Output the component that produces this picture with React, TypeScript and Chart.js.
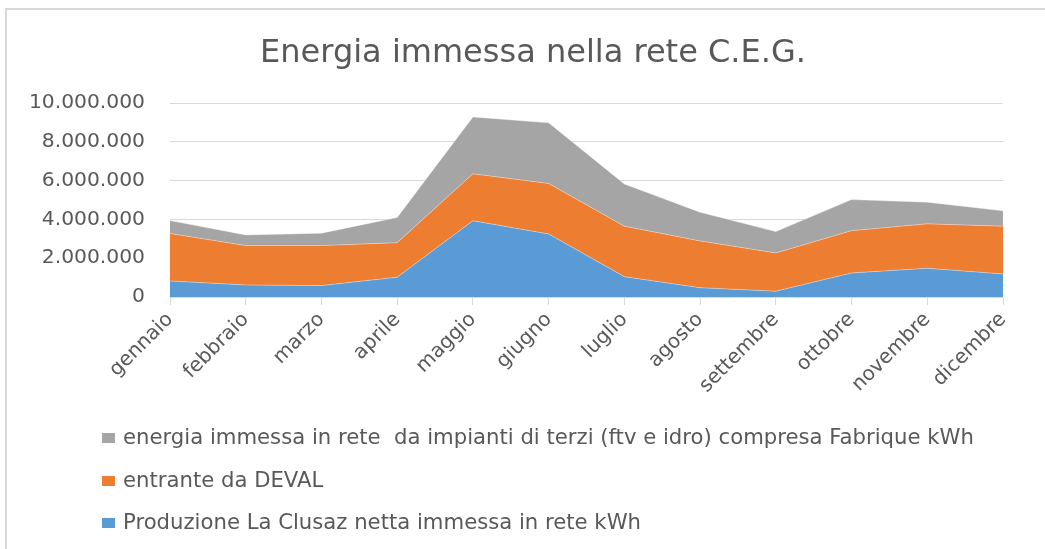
import React, { useEffect, useRef } from "react";
import { Chart, registerables } from "chart.js";

Chart.register(...registerables);

const categories = [
  "gennaio", "febbraio", "marzo", "aprile", "maggio", "giugno",
  "luglio", "agosto", "settembre", "ottobre", "novembre", "dicembre",
];

const produzioneClusaz = [830000, 620000, 590000, 1020000, 3930000, 3250000, 1050000, 480000, 300000, 1240000, 1480000, 1190000];
const entranteDeval = [2440000, 2030000, 2060000, 1780000, 2420000, 2600000, 2600000, 2410000, 1970000, 2180000, 2290000, 2460000];
const impiantiTerzi = [670000, 550000, 640000, 1300000, 2930000, 3130000, 2170000, 1480000, 1100000, 1600000, 1120000, 790000];

const seriesLabels = [
  "Produzione La Clusaz netta immessa in rete kWh",
  "entrante da DEVAL",
  "energia immessa in rete  da impianti di terzi (ftv e idro) compresa Fabrique kWh",
];

const titleText = "Energia immessa nella rete C.E.G.";
const yMax = 10000000;
const yStep = 2000000;

const FONT = "'DejaVu Sans', sans-serif";
const TEXT = "#595959";
const GRID = "#d9d9d9";

function fmt(v: number): string {
  return String(Math.round(v)).replace(/\B(?=(\d{3})+(?!\d))/g, ".");
}

const titleLegendPlugin = {
  id: "titleLegend",
  afterDraw(chart: any) {
    const ctx = chart.ctx;
    ctx.save();
    ctx.fillStyle = TEXT;
    ctx.font = `32px ${FONT}`;
    ctx.textAlign = "center";
    ctx.textBaseline = "alphabetic";
    ctx.fillText(titleText, 533, 62);

    const order = [2, 1, 0];
    const ys = [438, 481, 523];
    ctx.font = `21.2px ${FONT}`;
    ctx.textBaseline = "middle";
    ctx.textAlign = "left";
    order.forEach((di, i) => {
      const ds = chart.data.datasets[di];
      ctx.fillStyle = ds.backgroundColor;
      ctx.fillRect(102, ys[i] - 5, 13, 10);
      ctx.fillStyle = TEXT;
      ctx.fillText(ds.label, 123, ys[i]);
    });
    ctx.restore();
  },
};

export default function App() {
  const ref = useRef<HTMLCanvasElement | null>(null);

  useEffect(() => {
    if (!ref.current) return;
    const chart = new Chart(ref.current, {
      type: "line",
      data: {
        labels: categories,
        datasets: [
          {
            label: seriesLabels[0],
            data: produzioneClusaz,
            backgroundColor: "#5b9bd5",
            borderColor: "rgba(255,255,255,0.35)",
            borderWidth: 1,
            fill: "origin",
            pointRadius: 0,
            tension: 0,
          },
          {
            label: seriesLabels[1],
            data: entranteDeval,
            backgroundColor: "#ed7d31",
            borderColor: "rgba(255,255,255,0.35)",
            borderWidth: 1,
            fill: "-1",
            pointRadius: 0,
            tension: 0,
          },
          {
            label: seriesLabels[2],
            data: impiantiTerzi,
            backgroundColor: "#a5a5a5",
            borderColor: "rgba(255,255,255,0.35)",
            borderWidth: 1,
            fill: "-1",
            pointRadius: 0,
            tension: 0,
          },
        ],
      },
      options: {
        responsive: false,
        animation: false,
        devicePixelRatio: 1,
        layout: { padding: { left: 0, right: 42, top: 103, bottom: 130 } },
        plugins: {
          legend: { display: false },
          tooltip: { enabled: false },
          title: { display: false },
        },
        scales: {
          x: {
            offset: false,
            grid: {
              display: true,
              drawOnChartArea: false,
              drawTicks: true,
              tickLength: 8,
              color: GRID,
            },
            border: { display: true, color: GRID, width: 1 },
            ticks: {
              color: TEXT,
              font: { family: FONT, size: 20 },
              minRotation: 45,
              maxRotation: 45,
              padding: 3,
              autoSkip: false,
            },
            afterFit(scale: any) {
              scale.height = 122;
            },
          },
          y: {
            stacked: true,
            min: 0,
            max: yMax,
            grid: { color: GRID, lineWidth: 1, drawTicks: false },
            border: { display: false },
            ticks: {
              stepSize: yStep,
              color: TEXT,
              font: { family: FONT, size: 20.3 },
              padding: 25,
              callback: (v: any) => fmt(Number(v)),
            },
            afterFit(scale: any) {
              scale.width = 170;
            },
          },
        },
      },
      plugins: [titleLegendPlugin],
    });
    return () => chart.destroy();
  }, []);

  return (
    <div style={{ position: "fixed", left: 0, top: 0, width: 1045, height: 549, background: "#fff", overflow: "hidden" }}>
      <div
        style={{
          position: "absolute",
          left: 5,
          top: 8,
          width: 1060,
          height: 560,
          borderTop: "2px solid #d9d9d9",
          borderLeft: "2px solid #d9d9d9",
        }}
      />
      <canvas ref={ref} width={1045} height={549} style={{ position: "absolute", left: 0, top: 0 }} />
    </div>
  );
}
